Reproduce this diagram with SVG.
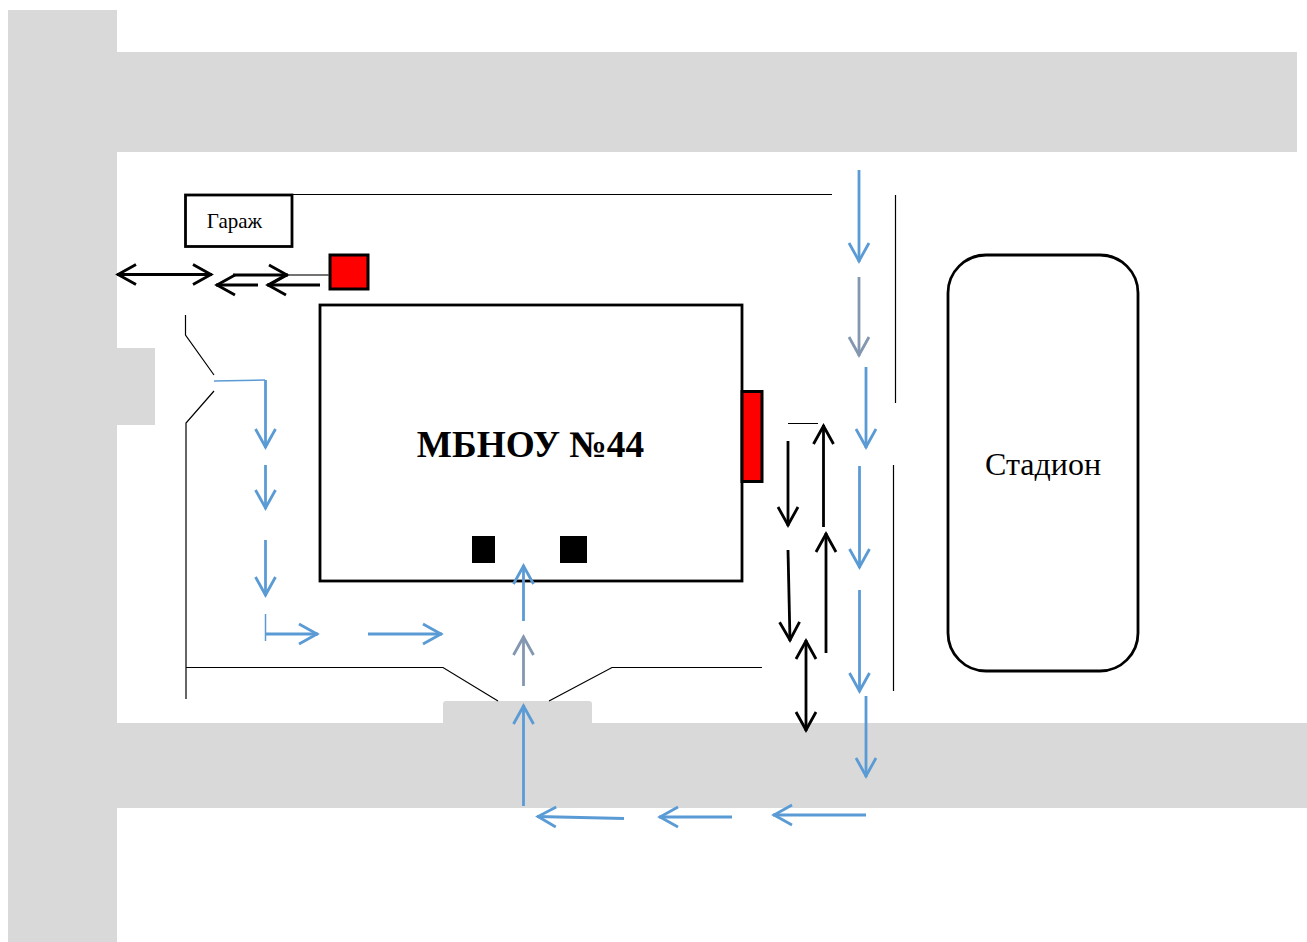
<svg xmlns="http://www.w3.org/2000/svg" width="1307" height="942" viewBox="0 0 1307 942">
<style>
.road{fill:#d9d9d9}
.box{fill:#fff;stroke:#000;stroke-width:2.800}
.red{fill:#f00;stroke:#000;stroke-width:3}
.thin{fill:none;stroke:#000;stroke-width:1.200}
.a{fill:none;stroke-width:2.800}
.k{stroke:#000;marker-end:url(#hk)}
.kk{stroke:#000;marker-end:url(#hk);marker-start:url(#hks)}
.b{stroke:#5b9bd5;marker-end:url(#hb)}
.g{stroke:#8497b0;marker-end:url(#hg)}
text{font-family:"Liberation Serif","Times New Roman",serif;fill:#000;text-anchor:middle}
</style>
<defs>
<marker id="hk" markerUnits="userSpaceOnUse" markerWidth="26" markerHeight="26" refX="21" refY="13" orient="auto"><path d="M2 3L20 13L2 23" fill="none" stroke="#000" stroke-width="2.800"/></marker>
<marker id="hks" markerUnits="userSpaceOnUse" markerWidth="26" markerHeight="26" refX="21" refY="13" orient="auto-start-reverse"><path d="M2 3L20 13L2 23" fill="none" stroke="#000" stroke-width="2.800"/></marker>
<marker id="hb" markerUnits="userSpaceOnUse" markerWidth="26" markerHeight="26" refX="21" refY="13" orient="auto"><path d="M2 3L20 13L2 23" fill="none" stroke="#5b9bd5" stroke-width="2.800"/></marker>
<marker id="hg" markerUnits="userSpaceOnUse" markerWidth="26" markerHeight="26" refX="21" refY="13" orient="auto"><path d="M2 3L20 13L2 23" fill="none" stroke="#8497b0" stroke-width="2.800"/></marker>
</defs>
<rect width="1307" height="942" fill="#fff"/>
<g id="roads">
<rect class="road" x="8" y="10" width="109" height="932"/>
<rect class="road" x="117" y="52" width="1180" height="100"/>
<rect class="road" x="117" y="723" width="1190" height="85"/>
<rect class="road" x="117" y="348" width="38" height="77"/>
<rect class="road" x="443" y="701" width="149" height="30" rx="3"/>
</g>
<g id="fences">
<path class="thin" d="M292 194.500H832M895.500 195V403M893.500 465V691"/>
<path class="thin" d="M185.500 315V335L214 375M214 391L186 423V699M186 667.500H443L498 701M549 701L612 667.500H762M788 423.500H818"/>
</g>
<g id="garage"><rect class="box" x="185.500" y="195" width="106.500" height="51.500"/><text x="234.500" y="228" font-size="21">Гараж</text></g>
<g id="building"><rect class="box" x="320" y="305" width="422" height="276"/><text x="530.500" y="457" font-size="37.300" font-weight="bold">МБНОУ №44</text>
<rect x="472" y="536" width="23" height="27" fill="#000"/><rect x="560" y="536" width="27" height="27" fill="#000"/></g>
<g id="red-top"><rect class="red" x="330" y="255" width="38" height="34"/></g>
<g id="red-side"><rect class="red" x="742" y="391.500" width="20" height="90"/></g>
<g id="stadium"><rect class="box" x="948" y="255" width="190" height="416" rx="38"/><text x="1043" y="475" font-size="32">Стадион</text></g>
<g id="connectors">
<path class="a kk" d="M117 274.500H212"/>
<path class="a k" d="M233 275H288"/><path d="M288 275H329" stroke="#444" stroke-width="1.500" fill="none"/>
<path class="a k" d="M258 285H216"/><path class="a k" d="M320 285H267"/>
<path d="M214 381L265 380" fill="none" stroke="#5b9bd5" stroke-width="1.500"/>
<path class="a b" d="M265.500 380V448"/><path class="a b" d="M265.500 465V509"/><path class="a b" d="M265.500 540V596"/>
<path d="M265.500 614V641" fill="none" stroke="#5b9bd5" stroke-width="1.500"/>
<path class="a b" d="M266 634H318"/><path class="a b" d="M368 634H442"/>
<path class="a b" d="M523.500 621V565"/><path class="a g" d="M523.500 686V636"/><path class="a b" d="M523.500 806V705"/>
<path class="a b" d="M624 818.500L537 816.500"/><path class="a b" d="M732 817H659"/><path class="a b" d="M866 815H773"/>
<path class="a b" d="M859 170V262"/><path class="a g" d="M859 277V356"/><path class="a b" d="M866 367V448"/>
<path class="a b" d="M859.500 466V568"/><path class="a b" d="M859.500 590V692"/><path class="a b" d="M866 696V777"/>
<path class="a k" d="M788 441V526"/><path class="a k" d="M823.500 527V425"/><path class="a k" d="M788 550L790 641"/><path class="a k" d="M826 653V533"/>
<path class="a kk" d="M806 640V731"/>
</g>
</svg>
